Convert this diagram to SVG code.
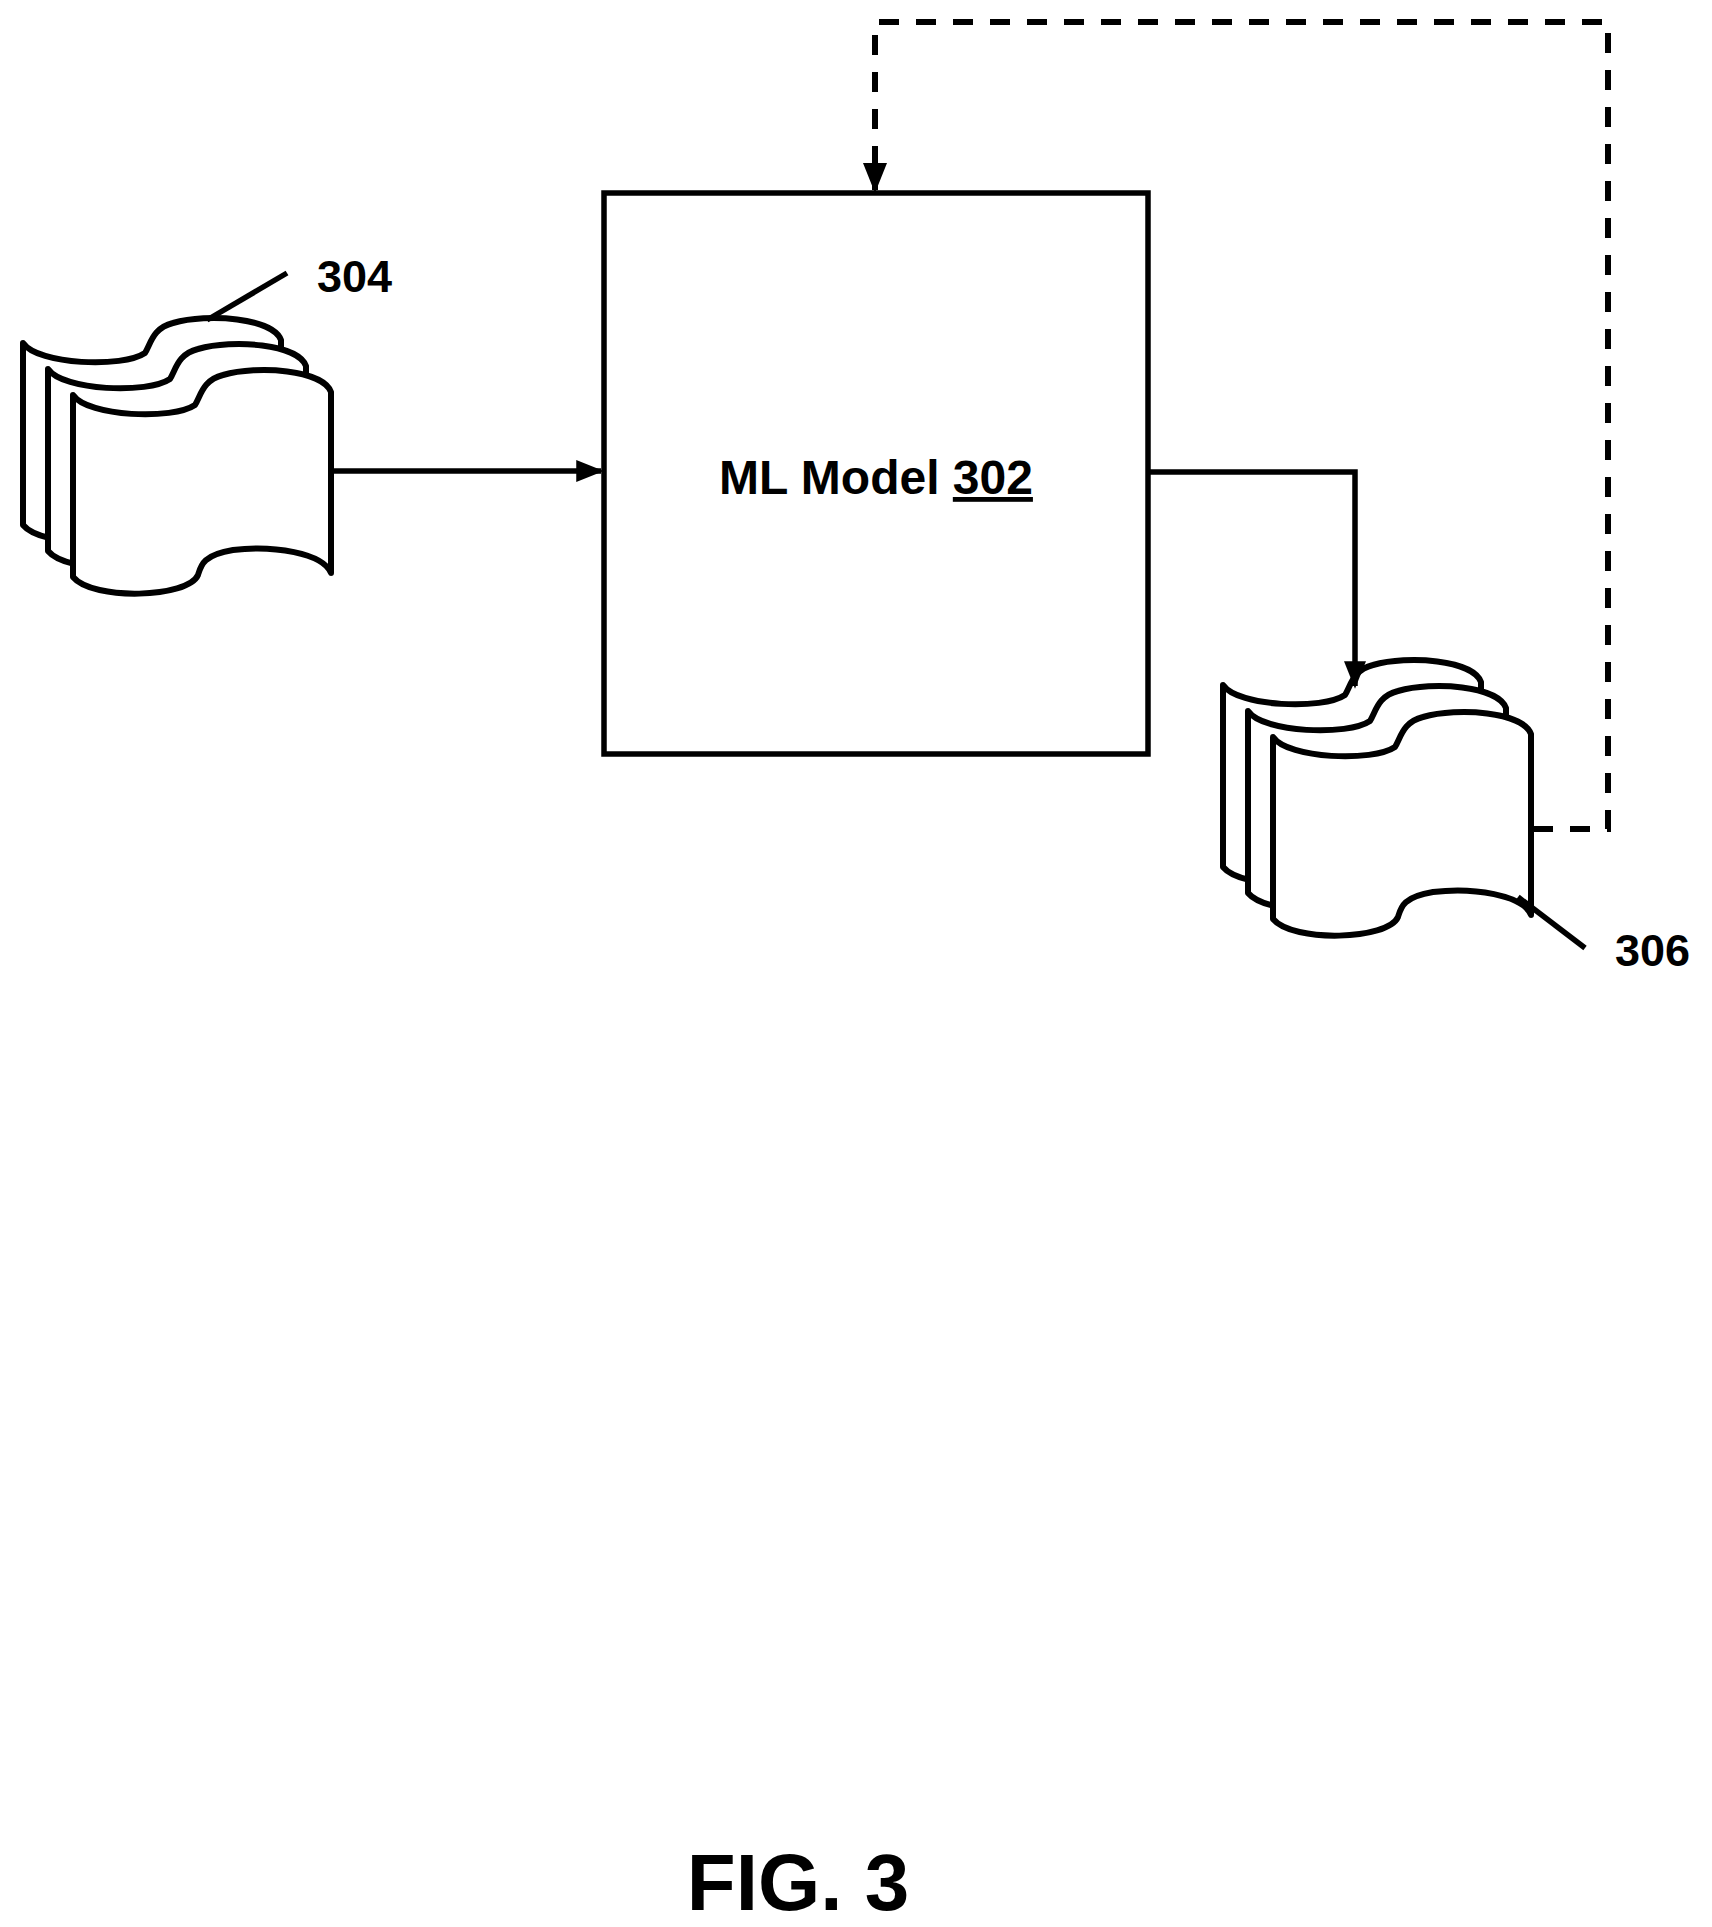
<svg xmlns="http://www.w3.org/2000/svg" xmlns:xlink="http://www.w3.org/1999/xlink" width="1712" height="1927" viewBox="0 0 1712 1927">
<style>
.s{fill:none;stroke:#000;stroke-width:5.5}
.pg{fill:#fff;stroke:#000;stroke-width:6;stroke-linejoin:round}
.d{fill:none;stroke:#000;stroke-width:6;stroke-dasharray:20 17}
.t{font-family:"Liberation Sans",Arial,sans-serif;font-weight:bold;fill:#000}
</style>
<defs>
<path id="page" class="pg" d="M0,0 C15,22 100,25 122,10 C128,0 130,-15 150,-20 C185,-30 250,-25 258,-3 L258,178 C250,158 200,150 160,155 C130,160 128,170 125,180 C115,203 20,206 0,182 Z"/>
<marker id="ah" markerWidth="5" markerHeight="4" refX="4.5" refY="2" orient="auto" markerUnits="strokeWidth"><path d="M0,0 L5,2 L0,4 Z" fill="#000"/></marker>
</defs>
<rect width="1712" height="1927" fill="#fff"/>
<g id="node302">
<rect x="604" y="193" width="544" height="561" fill="#fff" stroke="#000" stroke-width="5.5"/>
<text class="t" x="876" y="494" font-size="48" text-anchor="middle">ML Model <tspan text-decoration="underline">302</tspan></text>
</g>
<g id="node304">
<use xlink:href="#page" transform="translate(23,343)"/>
<use xlink:href="#page" transform="translate(48,369)"/>
<use xlink:href="#page" transform="translate(73,395)"/>
<line class="s" x1="207" y1="320" x2="287" y2="273" stroke-width="3.5"/>
<text class="t" x="317" y="292" font-size="45">304</text>
</g>
<g id="node306">
<use xlink:href="#page" transform="translate(1223,685)"/>
<use xlink:href="#page" transform="translate(1248,711)"/>
<use xlink:href="#page" transform="translate(1273,737)"/>
<line class="s" x1="1518" y1="897" x2="1585" y2="948" stroke-width="3.5"/>
<text class="t" x="1615" y="966" font-size="45">306</text>
</g>
<g id="connectors">
<line class="s" x1="333" y1="471" x2="601" y2="471" marker-end="url(#ah)"/>
<polyline class="s" points="1148,472 1355,472 1355,686" marker-end="url(#ah)"/>
<polyline class="d" points="1533,829 1608,829 1608,22 875,22 875,190" marker-end="url(#ah)"/>
</g>
<text class="t" x="798" y="1910" font-size="80" text-anchor="middle">FIG. 3</text>
</svg>
